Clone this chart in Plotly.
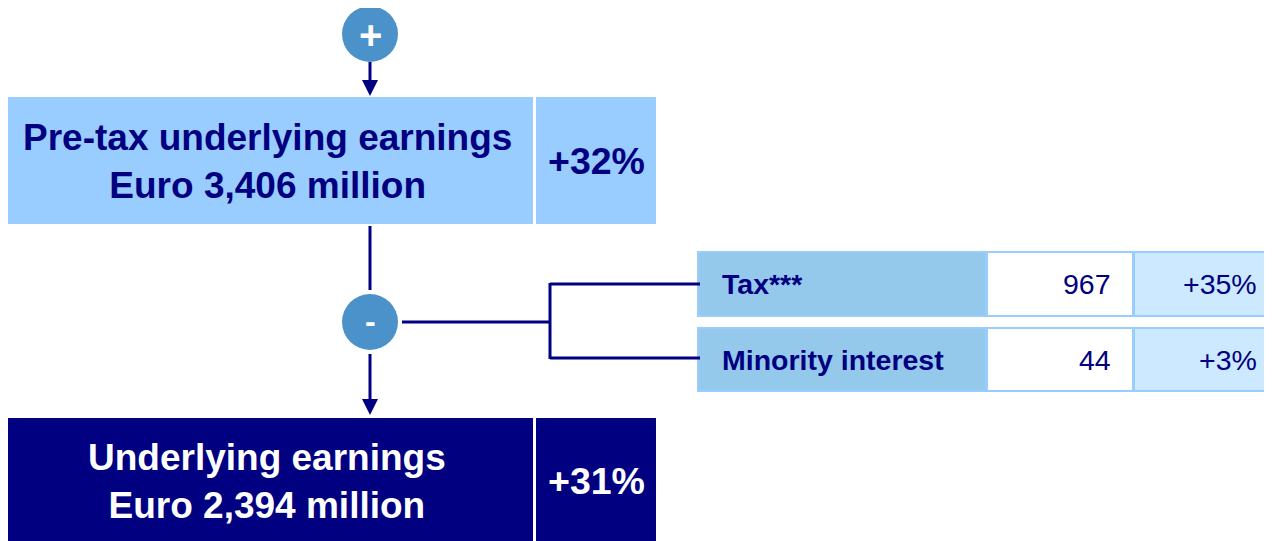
import plotly.graph_objects as go

# ---- data ----
main_titles = ["Pre-tax underlying earnings", "Underlying earnings"]
main_amounts = ["Euro 3,406 million", "Euro 2,394 million"]
main_growth = ["+32%", "+31%"]
item_labels = ["Tax***", "Minority interest"]
item_values = [967, 44]
item_growth = ["+35%", "+3%"]
operators = ["+", "-"]

NAVY = "#000080"
LIGHT = "#99CCFF"
ITEM = "#95C9EC"
PALE = "#CCE9FF"
CIRCLE = "#4B92CB"
FONT = "Liberation Sans, Arial, sans-serif"

W, H = 1272, 541
OFF = 8  # page body margin
fig = go.Figure()
shapes = []
ann = []

def rect(x0, y0, x1, y1, fill, line=None, lw=0):
    shapes.append(dict(type="rect", x0=x0, y0=y0, x1=x1, y1=y1, fillcolor=fill,
                       line=dict(color=line or fill, width=lw), layer="below"))

def seg(x0, y0, x1, y1, w=3):
    shapes.append(dict(type="line", x0=x0, y0=y0, x1=x1, y1=y1, line=dict(color=NAVY, width=w)))

def arrow(x, ytop, ytip):
    shapes.append(dict(type="path", path=f"M {x-8},{ytop} L {x+8},{ytop} L {x},{ytip} Z",
                       fillcolor=NAVY, line=dict(color=NAVY, width=0)))

# main boxes
main_y = [(97, 224), (418, 545)]
main_fill = [LIGHT, NAVY]
main_txt = [NAVY, "white"]
main_yc = [161, 481]
for i in range(2):
    y0, y1 = main_y[i]
    rect(8, y0, 533, y1, main_fill[i])
    rect(536, y0, 656, y1, main_fill[i])
    yc = main_yc[i]
    ann.append(dict(x=267, y=yc, text=f"<b>{main_titles[i]}<br>{main_amounts[i]}</b>",
                    showarrow=False, font=dict(family=FONT, size=37, color=main_txt[i]),
                    align="center", xanchor="center", yanchor="middle"))
    ann.append(dict(x=596, y=yc, text=f"<b>{main_growth[i]}</b>", showarrow=False,
                    font=dict(family=FONT, size=37.5, color=main_txt[i]),
                    xanchor="center", yanchor="middle"))

# connectors
cx = 370
seg(cx, 0, cx, 4)
seg(cx, 62, cx, 82)
arrow(cx, 80, 96)
seg(cx, 226, cx, 290)
seg(cx, 354, cx, 402)
arrow(cx, 399, 415)
seg(402, 322, 550, 322)
seg(550, 283, 550, 359)
seg(550, 284, 700, 284)
seg(550, 358, 700, 358)

# circles
circ_y = [34, 322]
for i, op in enumerate(operators):
    shapes.append(dict(type="circle", x0=cx - 28, x1=cx + 28, y0=circ_y[i] - 28, y1=circ_y[i] + 28,
                       fillcolor=CIRCLE, line=dict(color=CIRCLE, width=0)))
    ann.append(dict(x=cx, y=circ_y[i] + (1 if op == "+" else -1), text=f"<b>{op}</b>", showarrow=False,
                    font=dict(family=FONT, size=40 if op == "+" else 32, color="white"),
                    xanchor="center", yanchor="middle"))

# item table
row_y = [(252, 316), (328, 391)]
for i in range(2):
    y0, y1 = row_y[i]
    yc = (y0 + y1) / 2
    rect(698, y0, 986, y1, ITEM, LIGHT, 2)
    rect(987, y0, 1133, y1, "white", LIGHT, 2)
    rect(1134, y0, 1274, y1, PALE, LIGHT, 2)
    ann.append(dict(x=720, y=yc, text=f"<b>{item_labels[i]}</b>", showarrow=False,
                    font=dict(family=FONT, size=28.5, color=NAVY), xanchor="left", yanchor="middle"))
    ann.append(dict(x=1113, y=yc, text=f"{item_values[i]:,}", showarrow=False,
                    font=dict(family=FONT, size=28.5, color=NAVY), xanchor="right", yanchor="middle"))
    ann.append(dict(x=1259, y=yc, text=item_growth[i], showarrow=False,
                    font=dict(family=FONT, size=28.5, color=NAVY), xanchor="right", yanchor="middle"))

fig.update_layout(
    width=W, height=H - OFF, margin=dict(l=0, r=0, t=0, b=0, pad=0),
    paper_bgcolor="white", plot_bgcolor="white",
    xaxis=dict(range=[OFF, W + OFF], visible=False, fixedrange=True),
    yaxis=dict(range=[H, OFF], visible=False, fixedrange=True),
    shapes=shapes, annotations=ann, showlegend=False,
)
fig.write_html("out.html")
